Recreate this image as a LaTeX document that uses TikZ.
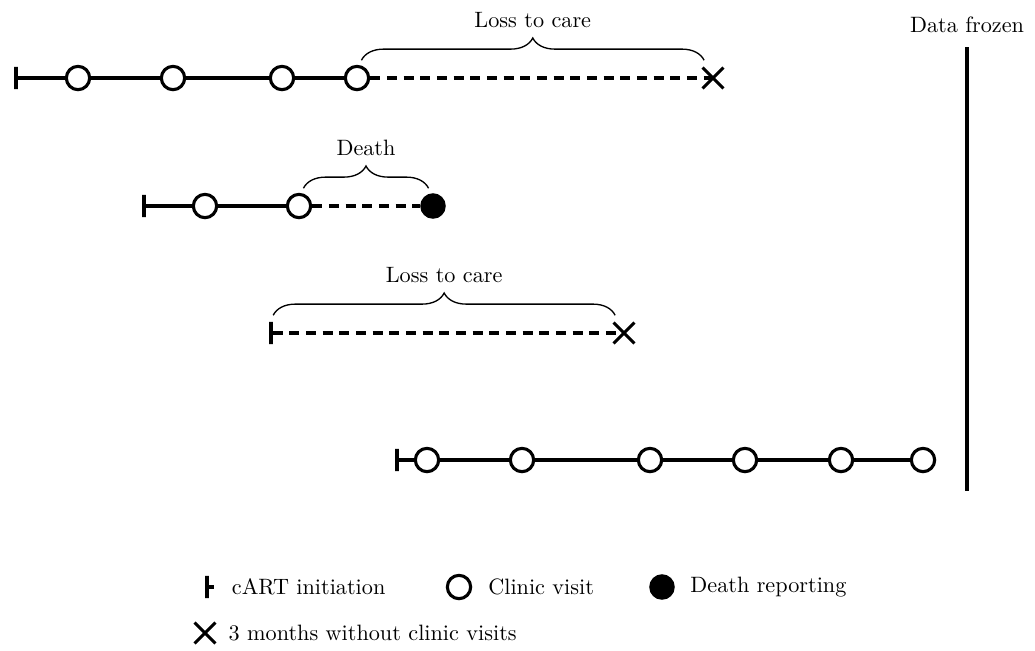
\documentclass[tikz,border=0pt]{standalone}
\usetikzlibrary{shapes.misc}
\usetikzlibrary{decorations.pathreplacing}
\usetikzlibrary{positioning}
\usetikzlibrary{scopes}

\tikzset{
    visit/.style={circle,draw,fill=white,line width=1.4pt,minimum size=10.5pt,inner sep=0pt},
    death/.style={circle,fill=black,minimum size=11.5pt,inner sep=0pt},
    lost/.style={cross out,draw,line width=1.4pt,minimum size=8pt,inner sep=0pt},
    start/.style={rectangle,draw,line width=1.4pt,minimum width=0pt,minimum height=10pt,inner sep=0pt},
    follow/.style={line width=1.4pt},
    gap/.style={line width=1.4pt,dash pattern=on 4.5pt off 3pt},
    period/.style={decorate,decoration={brace,amplitude=10pt},line width=0.6pt}
}

\begin{document}
\begin{tikzpicture}[x=0.45pt,y=-0.45pt]
    \useasboundingbox (0,0) rectangle (1035,650);

    { []
        \node[start] (s1) at (16,78) {};
        \node[visit] (v11) at (78,78) {};
        \node[visit] (v12) at (173,78) {};
        \node[visit] (v13) at (282,78) {};
        \node[visit] (v14) at (357,78) {};
        \node[lost] (x1) at (713,78) {};
        \draw[follow] (s1) -- (v11) -- (v12) -- (v13) -- (v14);
        \draw[gap] (v14) -- (x1.center);
        \draw[period] ([shift={(2pt,8pt)}]v14.center)
            -- node[above=11pt] {Loss to care} ([shift={(-4pt,8pt)}]x1.center);
    }
    { []
        \node[start] (s2) at (144,206) {};
        \node[visit] (v21) at (205,206) {};
        \node[visit] (v22) at (299,206) {};
        \node[death] (d2) at (433,206) {};
        \draw[follow] (s2) -- (v21) -- (v22);
        \draw[gap] (v22) -- (d2);
        \draw[period] ([shift={(2pt,8pt)}]v22.center)
            -- node[above=11pt] {Death} ([shift={(-2pt,8pt)}]d2.center);
    }
    { []
        \node[start] (s3) at (271,333) {};
        \node[lost] (x3) at (624,333) {};
        \draw[gap] (s3) -- (x3.center);
        \draw[period] ([shift={(1pt,8pt)}]s3.center)
            -- node[above=11pt] {Loss to care} ([shift={(-4pt,8pt)}]x3.center);
    }
    { []
        \node[start] (s4) at (397,460) {};
        \node[visit] (v41) at (427,460) {};
        \node[visit] (v42) at (522,460) {};
        \node[visit] (v43) at (650,460) {};
        \node[visit] (v44) at (745,460) {};
        \node[visit] (v45) at (841,460) {};
        \node[visit] (v46) at (923,460) {};
        \draw[follow] (s4) -- (v41) -- (v42) -- (v43) -- (v44) -- (v45) -- (v46);
    }

    \node (frozen) at (967,25) {Data frozen};
    \coordinate (fend) at (967,491);
    \draw[line width=1.8pt,shorten <=3pt] (frozen) -- (fend);

    \node[start] (ls) at (207,587) {};
    \draw[follow] (ls.center) -- ++(3pt,0);
    \node[right=7pt of ls] (lst) {cART initiation};
    \node[visit] (lv) at (459,587) {};
    \node[right=3.7pt of lv] (lvt) {Clinic visit};
    \node[death] (ld) at (662,587) {};
    \node[right=3.3pt of ld] (ldt) {Death reporting};
    \node[lost] (lx) at (205,633) {};
    \node[right=2.4pt of lx] (lxt) {3 months without clinic visits};
\end{tikzpicture}
\end{document}
